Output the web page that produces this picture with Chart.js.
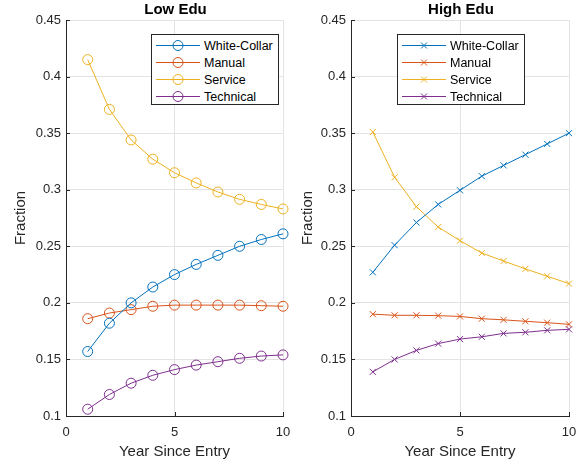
<!DOCTYPE html>
<html>
<head>
<meta charset="utf-8">
<script src="https://cdn.jsdelivr.net/npm/chart.js@4/dist/chart.umd.min.js"></script>
<style>
  body { margin: 0; background: #fff; font-family: "Liberation Sans", Arial, sans-serif; }
  #wrap { position: relative; width: 588px; height: 467px; overflow: hidden; }
  .panel { position: absolute; top: 0; width: 294px; height: 467px; }
  .legend { position: absolute; top: 34px; width: 128px; height: 71px; border: 1px solid #262626; background: #fff; box-sizing: border-box; padding-top: 2px; }
  .legend .row { height: 17px; display: flex; align-items: center; font-size: 12.5px; color: #000; }
  .legend svg { margin-left: 4px; margin-right: 4px; flex: none; }
</style>
</head>
<body>
<div id="wrap">
  <div class="panel" style="left:0"><canvas id="lowChart" width="294" height="467"></canvas></div>
  <div class="panel" style="left:294px"><canvas id="highChart" width="294" height="467"></canvas></div>
  <div class="legend" id="lowLegend" style="left:151px"></div>
  <div class="legend" id="highLegend" style="left:397px"></div>
</div>
<script>
const years = [1, 2, 3, 4, 5, 6, 7, 8, 9, 10];
const seriesNames = ['White-Collar', 'Manual', 'Service', 'Technical'];
const seriesColors = ['#0072BD', '#D95319', '#EDB120', '#7E2F8E'];
const xTicks = [0, 5, 10];
const yTicks = [0.1, 0.15, 0.2, 0.25, 0.3, 0.35, 0.4, 0.45];

// Low Edu
const lowWhiteCollar = [0.157, 0.182, 0.200, 0.214, 0.225, 0.234, 0.242, 0.250, 0.256, 0.261];
const lowManual      = [0.186, 0.191, 0.194, 0.197, 0.198, 0.198, 0.198, 0.198, 0.1975, 0.197];
const lowService     = [0.415, 0.371, 0.344, 0.327, 0.315, 0.306, 0.298, 0.2915, 0.287, 0.283];
const lowTechnical   = [0.106, 0.119, 0.129, 0.136, 0.141, 0.145, 0.148, 0.151, 0.153, 0.154];

// High Edu
const highWhiteCollar = [0.227, 0.251, 0.271, 0.287, 0.2995, 0.312, 0.3215, 0.331, 0.3405, 0.350];
const highManual      = [0.190, 0.189, 0.189, 0.1887, 0.188, 0.186, 0.185, 0.1837, 0.1825, 0.181];
const highService     = [0.351, 0.311, 0.285, 0.267, 0.255, 0.244, 0.237, 0.230, 0.2235, 0.217];
const highTechnical   = [0.139, 0.150, 0.158, 0.164, 0.168, 0.170, 0.173, 0.174, 0.1757, 0.1766];

const FONT = '"Liberation Sans", Arial, sans-serif';
const AXIS = '#262626';

// title + inward tick marks, matlab style
const matlabAxes = {
    id: 'matlabAxes',
    afterDraw(chart, args, opts) {
        const { ctx, chartArea, scales } = chart;
        ctx.save();
        ctx.strokeStyle = AXIS;
        ctx.lineWidth = 1;
        scales.y.ticks.forEach(t => {
            const y = Math.round(scales.y.getPixelForValue(t.value)) + 0.5;
            ctx.beginPath(); ctx.moveTo(chartArea.left, y); ctx.lineTo(chartArea.left + 4, y); ctx.stroke();
        });
        scales.x.ticks.forEach(t => {
            const x = Math.round(scales.x.getPixelForValue(t.value)) + 0.5;
            ctx.beginPath(); ctx.moveTo(x, chartArea.bottom); ctx.lineTo(x, chartArea.bottom - 4); ctx.stroke();
        });
        ctx.font = 'bold 15px ' + FONT;
        ctx.fillStyle = '#000';
        ctx.textAlign = 'center';
        ctx.textBaseline = 'middle';
        ctx.fillText(opts.text, (chartArea.left + chartArea.right) / 2 + 1, 10);
        ctx.restore();
    }
};

function makeDatasets(values, marker) {
    return values.map((vals, i) => ({
        label: seriesNames[i],
        data: years.map((x, j) => ({ x: x, y: vals[j] })),
        borderColor: seriesColors[i],
        backgroundColor: 'transparent',
        borderWidth: 1,
        pointStyle: marker,
        pointRadius: marker === 'circle' ? 5 : 4.3,
        pointBorderWidth: 1,
        pointBorderColor: seriesColors[i],
        pointBackgroundColor: 'transparent',
        tension: 0,
        clip: false
    }));
}

function makeChart(id, title, values, marker, yWidth, padRight, yTitlePad) {
    return new Chart(document.getElementById(id), {
        type: 'line',
        data: { datasets: makeDatasets(values, marker) },
        plugins: [matlabAxes],
        options: {
            responsive: false,
            animation: false,
            layout: { padding: { top: 20, right: padRight, left: 0, bottom: 0 } },
            plugins: {
                legend: { display: false },
                tooltip: { enabled: false },
                matlabAxes: { text: title }
            },
            scales: {
                x: {
                    type: 'linear', min: 0, max: 10,
                    afterBuildTicks: s => { s.ticks = xTicks.map(v => ({ value: v })); },
                    afterFit: s => { s.height = 51; s.paddingLeft = 0; s.paddingRight = 0; },
                    grid: { color: '#e3e3e3', drawTicks: false },
                    border: { color: AXIS, width: 1 },
                    ticks: { color: AXIS, font: { family: FONT, size: 13 }, padding: 9, maxRotation: 0 },
                    title: { display: true, text: 'Year Since Entry', color: AXIS, font: { family: FONT, size: 15 }, padding: { top: 0, bottom: 6 } }
                },
                y: {
                    min: 0.1, max: 0.45,
                    afterBuildTicks: s => { s.ticks = yTicks.map(v => ({ value: v })); },
                    afterFit: s => { s.width = yWidth; s.paddingTop = 0; s.paddingBottom = 0; },
                    grid: { color: '#e3e3e3', drawTicks: false },
                    border: { color: AXIS, width: 1 },
                    ticks: { color: AXIS, font: { family: FONT, size: 13 }, padding: 5, callback: v => String(Number(v.toFixed(2))) },
                    title: { display: true, text: 'Fraction', color: AXIS, font: { family: FONT, size: 15 }, padding: { top: yTitlePad, bottom: 0 } }
                }
            }
        }
    });
}

makeChart('lowChart', 'Low Edu', [lowWhiteCollar, lowManual, lowService, lowTechnical], 'circle', 66, 11, 12);
makeChart('highChart', 'High Edu', [highWhiteCollar, highManual, highService, highTechnical], 'crossRot', 57, 19, 5);

function buildLegend(elId, marker) {
    const box = document.getElementById(elId);
    seriesNames.forEach((name, i) => {
        const c = seriesColors[i];
        const sym = marker === 'circle'
            ? `<circle cx="22" cy="8.5" r="5" fill="none" stroke="${c}" stroke-width="1"/>`
            : `<path d="M19 5.5 L25 11.5 M25 5.5 L19 11.5" stroke="${c}" stroke-width="1"/>`;
        const row = document.createElement('div');
        row.className = 'row';
        row.innerHTML = `<svg width="44" height="17"><line x1="0" y1="8.5" x2="44" y2="8.5" stroke="${c}" stroke-width="1"/>${sym}</svg><span>${name}</span>`;
        box.appendChild(row);
    });
}
buildLegend('lowLegend', 'circle');
buildLegend('highLegend', 'cross');
</script>
</body>
</html>
